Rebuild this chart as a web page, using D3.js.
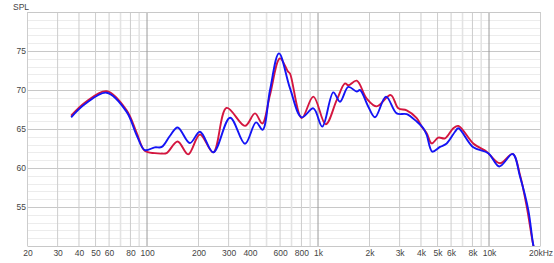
<!DOCTYPE html>
<html><head><meta charset="utf-8">
<script src="https://cdn.jsdelivr.net/npm/d3@7"></script>
<style>
html,body{margin:0;padding:0;background:#fff;}
svg text{font-family:"Liberation Sans",Arial,sans-serif;font-size:8.5px;fill:#444;}
</style></head>
<body><svg id="c" width="554" height="263"></svg>
<script>
const xTickLabels = [[20,"20"],[30,"30"],[40,"40"],[50,"50"],[60,"60"],[80,"80"],[100,"100"],[200,"200"],[300,"300"],[400,"400"],[600,"600"],[800,"800"],[1000,"1k"],[2000,"2k"],[3000,"3k"],[4000,"4k"],[5000,"5k"],[6000,"6k"],[8000,"8k"],[10000,"10k"],[20000,"20kHz"]];
const yTickLabels = [55,60,65,70,75];
const gridFreqs = [20,30,40,50,60,70,80,90,100,200,300,400,500,600,700,800,900,1000,2000,3000,4000,5000,6000,7000,8000,9000,10000,20000];
const majorFreqs = [100,1000,10000];

const freqs = [36,43.4,58,76,87,97,111,122,136,151,178,204,244,306,374,434,474,524,591,686,803,939,1059,1228,1344,1503,1684,1760,1968,2154,2498,2885,3300,3776,4128,4320,4657,5169,5656,6325,6613,8091,9902,11484,13757,15176,16975,18154,18600];
const blueDb = [66.5,68.2,69.65,67.2,64.2,62.3,62.65,62.7,64.1,65.2,63.2,64.65,62.0,66.45,63.1,65.85,64.9,70.0,74.7,70.2,66.5,67.65,65.3,69.7,68.5,70.4,69.8,70.0,67.85,66.5,69.15,67.0,66.9,65.95,65.1,64.25,62.1,62.7,63.15,64.65,65.1,62.65,61.9,60.2,61.8,58.9,54.6,50.1,49.3];

const redFreqs = [36,43.4,58,76,87,97,111,122,130,151,174,204,244,292,374,428,472,524,599,668,686,803,939,1109,1286,1438,1503,1684,1926,2204,2661,2949,3300,3776,4040,4320,4622,5052,5529,6182,6613,8091,9692,10131,11593,13757,15176,16612,18154,18600];
const redDb = [66.7,68.4,69.85,67.4,64.5,62.2,61.9,61.85,61.9,63.4,61.75,64.3,62.0,67.7,65.4,67.0,65.7,69.4,74.05,72.35,72.1,66.4,69.15,65.6,68.7,70.85,70.6,71.2,68.9,67.9,69.35,67.65,67.4,66.4,65.3,64.45,63.15,63.9,63.8,65.1,65.4,63.15,62.1,61.65,60.6,61.8,59.1,55.05,50.1,49.3];

const svg = d3.select("#c");
const L=27.5, R=540.5, T=12, B=246;
const x = d3.scaleLog().domain([20,20000]).range([L,R]);
const y = d3.scaleLinear().domain([50,80]).range([B,T]);

const g = svg.append("g");
g.selectAll("line.hmin").data(d3.range(51,80)).join("line")
 .attr("x1",L).attr("x2",R).attr("y1",d=>Math.round(y(d))+0.5).attr("y2",d=>Math.round(y(d))+0.5)
 .attr("stroke",d=>d%5===0?"#c8c8c8":"#ececec").attr("stroke-width",1);
const labeled = new Set(xTickLabels.map(d=>d[0]));
g.selectAll("line.v").data(gridFreqs).join("line")
 .attr("x1",d=>x(d)).attr("x2",d=>x(d)).attr("y1",T).attr("y2",B)
 .attr("stroke",d=>majorFreqs.includes(d)?"#9a9a9a":(labeled.has(d)?"#cdcdcd":"#e3e3e3"))
 .attr("stroke-width",d=>labeled.has(d)?1:1.6);
g.selectAll("line.hb").data([50,80]).join("line")
 .attr("x1",L).attr("x2",R).attr("y1",d=>Math.round(y(d))+0.5).attr("y2",d=>Math.round(y(d))+0.5)
 .attr("stroke","#c8c8c8");

const xAxis = d3.axisBottom(x).tickValues(xTickLabels.map(d=>d[0]))
  .tickFormat(d=>xTickLabels.find(t=>t[0]===d)[1]).tickSize(0).tickPadding(0);
const ax = svg.append("g").attr("transform",`translate(0,${B+4})`).call(xAxis);
ax.select(".domain").remove();
ax.selectAll("text").attr("dy","0.71em").style("font-family","Liberation Sans, Arial").style("font-size","8.5px").attr("fill","#444");

const yAxis = d3.axisLeft(y).tickValues(yTickLabels).tickSize(0).tickPadding(0);
const ay = svg.append("g").attr("transform",`translate(${L-1.5},0)`).call(yAxis);
ay.select(".domain").remove();
ay.selectAll("text").style("font-family","Liberation Sans, Arial").style("font-size","8.5px").attr("fill","#444");

svg.append("text").attr("x",13).attr("y",9.5).text("SPL");

svg.append("clipPath").attr("id","clip").append("rect").attr("x",L).attr("y",T).attr("width",R-L).attr("height",B-T);

const line = d3.line().x(d=>x(d[0])).y(d=>y(d[1])).curve(d3.curveCatmullRom.alpha(0.5));
const plot = svg.append("g").attr("clip-path","url(#clip)");
plot.append("path").datum(redFreqs.map((f,i)=>[f,redDb[i]]))
 .attr("d",line).attr("fill","none").attr("stroke","#d4163f").attr("stroke-width",1.9);
plot.append("path").datum(freqs.map((f,i)=>[f,blueDb[i]]))
 .attr("d",line).attr("fill","none").attr("stroke","#1414f5").attr("stroke-width",1.9);
</script></body></html>
